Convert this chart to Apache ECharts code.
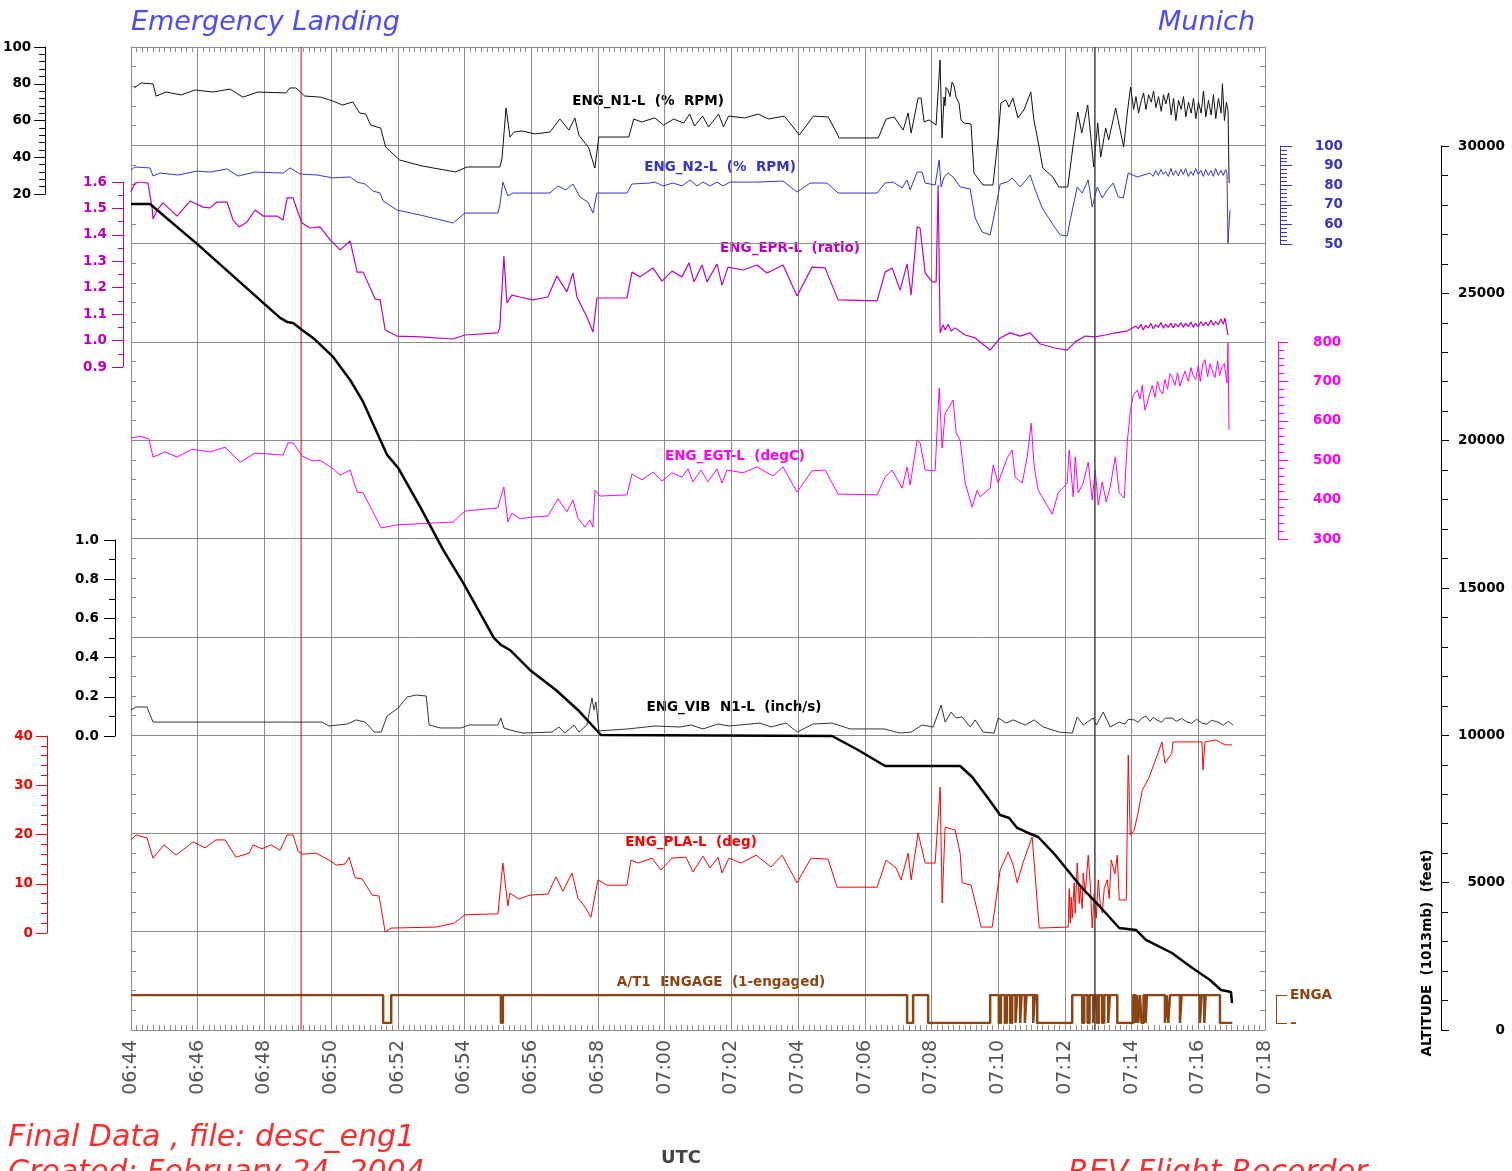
<!DOCTYPE html>
<html>
<head>
<meta charset="utf-8">
<title>Emergency Landing - Munich</title>
<script src="https://cdn.jsdelivr.net/npm/echarts@6/dist/echarts.min.js"></script>
<style>
  html, body { margin: 0; padding: 0; background: #fff; }
  #chart { width: 1512px; height: 1171px; }
</style>
</head>
<body>
<div id="chart"></div>
<script>
// time is minutes after 06:44 UTC
const startMin = 6 * 60 + 44;
const spanMin = 34;

const n1L = [[0,77.7],[0.21,80.4],[0.57,79.9],[0.66,73.3],[0.96,75.5],[1.41,73.9],[1.83,76.6],[2.37,75.5],[2.88,77.1],[3.27,72.7],[3.72,75.5],[4.56,75.0],[4.68,77.7],[4.86,77.7],[5.13,73.3],[5.61,72.7],[5.97,70.6],[6.27,68.4],[6.57,70.1],[6.78,64.1],[6.96,63.5],[7.11,57.5],[7.41,55.9],[7.56,45.6],[7.98,38.5],[8.67,35.2],[9.66,32.0],[10.01,34.7],[11.0,34.7],[11.06,39.6],[11.18,66.8],[11.30,51.0],[11.42,53.7],[11.66,54.3],[12.05,52.7],[12.50,53.7],[12.80,60.8],[13.07,54.8],[13.25,61.4],[13.37,52.1],[13.67,45.0],[13.85,34.1],[13.97,51.0],[14.87,51.0],[15.02,60.8],[15.26,59.2],[15.65,61.4],[15.92,57.5],[16.22,60.8],[16.52,58.6],[16.70,63.5],[16.85,57.0],[17.09,62.4],[17.27,56.5],[17.57,63.5],[17.72,56.5],[17.87,62.4],[18.35,61.4],[18.77,63.5],[19.07,60.8],[19.55,62.4],[20.0,52.1],[20.42,62.4],[20.87,61.9],[21.20,50.5],[22.37,50.5],[22.61,60.8],[22.85,61.9],[23.12,54.8],[23.27,64.1],[23.36,53.2],[23.57,72.2],[23.66,72.2],[23.75,59.2],[23.90,60.3],[24.11,57.5],[24.23,92.9],[24.29,50.5],[24.35,72.8],[24.38,68.0],[24.41,78.0],[24.47,76.6],[24.53,73.0],[24.59,80.9],[24.65,79.0],[24.71,72.8],[24.80,69.5],[24.86,60.3],[24.95,58.6],[25.16,58.1],[25.25,31.4],[25.52,24.9],[25.82,24.9],[25.97,49.4],[26.06,69.5],[26.21,71.2],[26.30,67.3],[26.42,72.2],[26.57,61.4],[26.75,65.7],[26.96,75.5],[27.05,60.3],[27.17,49.4],[27.32,34.1],[27.62,29.3],[27.80,23.8],[28.07,23.8],[28.22,45.0],[28.37,64.6],[28.49,53.2],[28.67,68.4],[28.85,34.7],[28.97,58.6],[29.06,40.1],[29.21,55.9],[29.30,49.4],[29.51,66.8],[29.75,45.6],[29.87,65.7],[29.96,78.2],[30.05,66],[30.12,73],[30.2,64],[30.28,71],[30.35,75],[30.42,66],[30.5,74],[30.58,70],[30.65,76],[30.72,67],[30.8,73],[30.88,65],[30.95,74],[31.02,69],[31.1,75],[31.18,63],[31.25,72],[31.32,60],[31.4,71],[31.48,66],[31.55,73],[31.62,62],[31.7,70],[31.78,64],[31.85,72],[31.92,61],[32.0,70],[32.08,64],[32.15,76],[32.22,62],[32.3,71],[32.38,63],[32.45,74],[32.52,61],[32.6,72],[32.68,64],[32.72,80],[32.78,60],[32.84,70],[32.89,65],[32.92,26]];

const n2L = [[0,87.8],[0.12,89.3],[0.57,88.8],[0.66,84.7],[0.87,86.2],[1.41,85.2],[1.98,87.2],[2.37,86.7],[2.88,88.3],[3.21,84.7],[3.72,86.7],[4.56,86.2],[4.77,88.8],[5.07,85.7],[5.58,85.2],[6.06,83.7],[6.57,84.2],[6.78,81.6],[7.02,80.6],[7.26,77.0],[7.47,76.0],[7.56,71.9],[7.98,67.3],[8.67,64.8],[9.66,60.7],[10.01,65.8],[11.0,65.8],[11.06,69.9],[11.15,81.6],[11.30,74.5],[11.45,76.0],[12.56,76.0],[12.80,79.6],[13.04,77.6],[13.25,80.6],[13.46,74.0],[13.70,71.4],[13.85,65.8],[13.97,76.0],[14.87,76.0],[15.02,80.6],[15.56,81.1],[15.71,81.6],[15.95,79.6],[16.25,81.1],[16.52,79.6],[16.76,82.7],[16.97,79.6],[17.15,81.6],[17.36,79.6],[17.57,81.6],[17.75,79.6],[17.96,81.6],[18.77,81.6],[19.55,82.1],[19.97,76.5],[20.36,81.1],[20.87,81.1],[21.20,76.0],[22.37,76.0],[22.61,81.1],[22.85,81.6],[23.12,78.6],[23.27,82.7],[23.36,77.6],[23.57,86.7],[23.72,86.7],[23.81,81.1],[24.11,80.1],[24.23,92.9],[24.29,79.1],[24.38,84.2],[24.50,86.2],[24.65,84.2],[24.86,79.1],[25.16,78.1],[25.31,63.3],[25.52,56.1],[25.76,54.6],[25.91,67.3],[26.06,80.6],[26.27,81.6],[26.42,83.7],[26.66,79.1],[26.96,85.2],[27.11,77.6],[27.32,68.4],[27.65,59.7],[27.86,54.6],[28.07,54.1],[28.16,62.2],[28.37,79.1],[28.52,76.0],[28.70,82.7],[28.82,68.9],[28.97,79.1],[29.12,73.5],[29.27,77.6],[29.45,81.1],[29.60,74.0],[29.75,73.5],[29.90,86.2],[30.17,84.2],[30.55,86.2],[30.65,84.5],[30.72,87.5],[30.8,85],[30.88,88],[30.95,85.5],[31.02,87],[31.1,84.5],[31.18,88.5],[31.25,85],[31.32,87.5],[31.4,84.8],[31.48,88],[31.55,85.5],[31.62,88.5],[31.7,84.5],[31.78,87],[31.85,85],[31.92,88.5],[32.0,85.5],[32.08,87.5],[32.15,84.5],[32.22,88],[32.3,85],[32.38,87.5],[32.45,84.5],[32.52,88.5],[32.6,85],[32.68,87.5],[32.75,85],[32.82,88],[32.86,86.2],[32.89,50.5],[32.95,67.3]];

const eprL = [[0,1.562],[0.12,1.596],[0.27,1.600],[0.51,1.596],[0.63,1.505],[0.66,1.460],[0.78,1.494],[0.96,1.521],[1.38,1.471],[1.77,1.528],[2.16,1.505],[2.37,1.502],[2.58,1.524],[2.88,1.524],[3.06,1.456],[3.24,1.430],[3.48,1.449],[3.72,1.494],[3.96,1.471],[4.38,1.471],[4.56,1.456],[4.68,1.540],[4.86,1.540],[4.98,1.494],[5.13,1.445],[5.37,1.426],[5.67,1.430],[5.97,1.381],[6.27,1.343],[6.57,1.377],[6.78,1.259],[6.96,1.259],[7.32,1.157],[7.47,1.154],[7.62,1.040],[7.98,1.017],[8.67,1.014],[9.66,1.006],[10.01,1.021],[11.0,1.029],[11.06,1.051],[11.18,1.320],[11.27,1.142],[11.42,1.172],[11.66,1.165],[12.05,1.154],[12.50,1.165],[12.77,1.244],[13.07,1.184],[13.25,1.256],[13.37,1.165],[13.67,1.089],[13.85,1.032],[13.97,1.161],[14.87,1.161],[15.02,1.259],[15.26,1.241],[15.65,1.275],[15.92,1.225],[16.22,1.263],[16.52,1.241],[16.73,1.294],[16.88,1.222],[17.12,1.286],[17.27,1.222],[17.57,1.290],[17.72,1.210],[17.90,1.278],[18.35,1.267],[18.77,1.286],[19.07,1.256],[19.55,1.286],[19.97,1.169],[20.42,1.278],[20.81,1.275],[21.20,1.154],[22.37,1.150],[22.61,1.259],[22.82,1.275],[23.06,1.191],[23.27,1.290],[23.39,1.172],[23.57,1.430],[23.66,1.426],[23.81,1.256],[24.02,1.222],[24.14,1.222],[24.20,1.589],[24.26,1.029],[24.35,1.060],[24.41,1.040],[24.50,1.062],[24.59,1.036],[24.71,1.048],[25.01,1.021],[25.31,1.010],[25.76,0.964],[26.06,1.010],[26.36,1.029],[26.66,1.017],[26.96,1.029],[27.26,0.987],[27.71,0.972],[28.07,0.964],[28.31,0.995],[28.61,1.017],[28.91,1.014],[29.21,1.021],[29.51,1.029],[29.87,1.036],[30.13,1.055],[30.2,1.045],[30.28,1.062],[30.35,1.04],[30.42,1.058],[30.5,1.048],[30.58,1.065],[30.65,1.045],[30.72,1.06],[30.8,1.05],[30.88,1.068],[30.95,1.047],[31.02,1.062],[31.1,1.05],[31.18,1.066],[31.25,1.048],[31.32,1.064],[31.4,1.052],[31.48,1.068],[31.55,1.05],[31.62,1.066],[31.7,1.053],[31.78,1.07],[31.85,1.05],[31.92,1.065],[32.0,1.052],[32.08,1.072],[32.15,1.055],[32.22,1.07],[32.3,1.056],[32.38,1.078],[32.45,1.058],[32.52,1.072],[32.6,1.06],[32.68,1.082],[32.75,1.062],[32.80,1.085],[32.89,1.021]];

const egtL = [[0,556],[0.27,561],[0.54,554],[0.66,508],[1.02,521],[1.38,508],[1.83,528],[2.37,521],[2.82,533],[3.27,495],[3.72,518],[4.08,516],[4.56,513],[4.71,544],[4.86,544],[5.13,511],[5.43,498],[5.67,500],[6.06,478],[6.27,462],[6.57,475],[6.78,419],[6.96,417],[7.38,348],[7.50,328],[7.98,336],[9.66,343],[10.01,371],[11.0,379],[11.06,399],[11.18,432],[11.30,343],[11.42,366],[11.66,351],[12.05,356],[12.50,358],[12.80,402],[13.07,369],[13.25,399],[13.40,353],[13.61,330],[13.76,348],[13.85,330],[13.91,424],[14.06,409],[14.87,412],[15.02,465],[15.32,450],[15.65,470],[15.92,447],[16.22,468],[16.52,457],[16.70,478],[16.85,445],[17.09,475],[17.30,445],[17.57,478],[17.72,442],[17.87,475],[18.35,468],[18.77,483],[19.25,460],[19.55,483],[19.97,419],[20.42,473],[20.81,475],[21.20,414],[22.37,412],[22.61,457],[22.82,475],[23.12,429],[23.27,483],[23.36,437],[23.57,551],[23.66,544],[23.81,475],[24.11,473],[24.23,683],[24.32,531],[24.41,620],[24.53,635],[24.65,653],[24.74,569],[24.86,551],[25.01,442],[25.22,381],[25.37,424],[25.46,407],[25.76,429],[25.85,488],[26.00,442],[26.27,506],[26.42,526],[26.51,457],[26.72,442],[26.87,508],[26.99,594],[27.08,483],[27.20,424],[27.62,363],[27.80,417],[28.07,442],[28.13,526],[28.25,407],[28.31,508],[28.40,417],[28.55,442],[28.70,495],[28.82,399],[28.91,475],[29.00,386],[29.12,445],[29.24,394],[29.36,432],[29.51,508],[29.63,417],[29.78,404],[29.87,546],[29.96,622],[30.05,665],[30.17,678],[30.25,655],[30.32,690],[30.40,627],[30.47,645],[30.55,671],[30.62,690],[30.70,660],[30.78,700],[30.85,678],[30.93,668],[31.00,705],[31.08,680],[31.15,720],[31.21,711],[31.30,690],[31.38,722],[31.45,688],[31.51,704],[31.60,726],[31.70,700],[31.78,735],[31.84,716],[31.92,705],[32.00,740],[32.06,700],[32.14,747],[32.20,755],[32.28,712],[32.35,745],[32.44,721],[32.50,710],[32.58,752],[32.64,715],[32.71,737],[32.78,745],[32.86,696],[32.89,797],[32.92,577]];

const vibL = [[0,0.133],[0.15,0.148],[0.48,0.148],[0.66,0.071],[4.56,0.071],[5.73,0.071],[5.94,0.051],[6.48,0.061],[6.75,0.082],[7.02,0.071],[7.29,0.020],[7.50,0.020],[7.68,0.102],[8.01,0.143],[8.28,0.199],[8.55,0.209],[8.85,0.204],[8.94,0.056],[9.27,0.041],[9.90,0.041],[10.13,0.056],[11.00,0.056],[11.09,0.092],[11.18,0.041],[11.36,0.031],[11.75,0.015],[12.62,0.020],[12.83,0.046],[13.01,0.015],[13.28,0.056],[13.43,0.020],[13.67,0.056],[13.82,0.194],[13.88,0.133],[13.94,0.173],[14.03,0.026],[14.90,0.036],[15.71,0.051],[16.46,0.046],[16.79,0.056],[17.15,0.036],[17.60,0.061],[17.93,0.051],[18.86,0.066],[19.19,0.046],[19.64,0.066],[19.97,0.020],[20.45,0.061],[21.02,0.066],[21.56,0.036],[22.58,0.036],[23.06,0.015],[23.39,0.020],[23.72,0.056],[24.05,0.046],[24.29,0.158],[24.41,0.071],[24.59,0.122],[24.74,0.092],[24.92,0.097],[25.16,0.046],[25.31,0.082],[25.55,0.020],[25.88,0.015],[26.00,0.092],[26.24,0.066],[26.45,0.082],[26.81,0.056],[27.08,0.082],[27.35,0.046],[27.83,0.020],[28.22,0.015],[28.37,0.097],[28.55,0.056],[28.85,0.092],[28.94,0.056],[29.15,0.122],[29.36,0.046],[29.63,0.071],[29.8,0.06],[29.9,0.085],[30.08,0.082],[30.2,0.07],[30.3,0.09],[30.43,0.102],[30.55,0.075],[30.65,0.095],[30.76,0.082],[30.9,0.07],[31.0,0.09],[31.21,0.092],[31.35,0.075],[31.5,0.09],[31.66,0.071],[31.8,0.065],[31.95,0.085],[32.11,0.066],[32.25,0.06],[32.4,0.08],[32.59,0.071],[32.75,0.055],[32.9,0.075],[33.04,0.056]];

const plaL = [[0,18.9],[0.15,19.9],[0.48,19.3],[0.66,15.2],[0.99,17.9],[1.35,15.8],[1.86,18.5],[2.22,17.3],[2.55,18.9],[2.82,18.9],[3.15,15.4],[3.54,16.2],[3.66,17.9],[3.93,17.1],[4.20,17.9],[4.47,16.8],[4.68,19.9],[4.86,19.9],[5.01,16.6],[5.13,16.0],[5.55,16.2],[5.94,14.8],[6.15,13.8],[6.42,14.0],[6.54,15.4],[6.72,11.2],[6.93,11.0],[7.23,7.7],[7.44,7.5],[7.62,0.2],[7.80,1.0],[9.15,1.2],[9.69,2.0],[10.01,3.7],[11.00,3.9],[11.15,14.2],[11.30,5.5],[11.36,8.1],[11.63,6.9],[11.96,7.7],[12.50,7.9],[12.74,11.4],[12.95,8.5],[13.22,12.2],[13.40,7.1],[13.61,5.3],[13.79,3.2],[14.00,10.8],[14.27,9.7],[14.87,9.7],[14.99,14.8],[15.20,14.2],[15.62,15.2],[15.89,12.8],[16.22,15.2],[16.64,15.4],[16.85,12.4],[17.15,15.6],[17.36,13.2],[17.60,15.4],[17.72,12.2],[17.93,15.2],[18.29,14.2],[18.74,15.8],[19.19,13.4],[19.52,15.8],[19.97,10.2],[20.39,15.2],[20.90,15.0],[21.17,9.3],[22.37,9.3],[22.64,14.8],[22.94,13.2],[23.09,10.8],[23.30,16.2],[23.39,10.8],[23.60,20.3],[23.81,14.2],[24.11,14.2],[24.26,29.6],[24.32,6.1],[24.41,21.5],[24.71,20.9],[24.86,16.2],[24.92,10.2],[25.19,9.7],[25.49,1.2],[25.82,1.2],[26.06,12.8],[26.30,16.4],[26.45,13.8],[26.57,10.2],[26.75,14.4],[27.02,19.5],[27.23,1.0],[28.10,1.2],[28.13,9],[28.16,2],[28.19,7.3],[28.22,3],[28.28,10.2],[28.31,4],[28.37,14.2],[28.43,6],[28.46,9.1],[28.52,5],[28.55,12.2],[28.61,8],[28.70,15.8],[28.76,10],[28.82,1.0],[28.88,8],[28.94,3],[29.00,10.8],[29.06,6],[29.12,4.1],[29.18,9],[29.27,10.8],[29.33,7],[29.39,14.8],[29.50,12],[29.57,15.8],[29.63,6.7],[29.84,6.7],[29.90,36.1],[29.96,19.9],[30.08,20.9],[30.20,24.6],[30.32,29.0],[30.52,31.5],[30.79,36.5],[30.91,38.8],[31.00,34.5],[31.21,36.5],[31.24,38.8],[32.11,38.8],[32.14,33.1],[32.20,38.8],[32.53,39.2],[32.80,38.2],[33.01,38.2]];

// autothrottle engaged flag, value holds until next change
const atEngage = [[0,1],[7.56,0],[7.80,1],[11.09,0],[11.15,1],[23.27,0],[23.45,1],[23.90,0],[25.76,1],[26.02,0],[26.08,1],[26.20,0],[26.26,1],[26.36,0],[26.42,1],[26.52,0],[26.57,1],[26.66,0],[26.70,1],[26.80,0],[26.85,1],[27.05,0],[27.10,1],[27.17,0],[28.22,1],[28.52,0],[28.58,1],[28.68,0],[28.74,1],[28.85,0],[28.90,1],[28.96,0],[29.02,1],[29.12,0],[29.18,1],[29.30,0],[29.35,1],[29.57,0],[30.05,1],[30.12,0],[30.16,1],[30.20,0],[30.25,1],[30.30,0],[30.36,1],[30.42,0],[30.46,1],[31.00,0],[31.05,1],[31.10,0],[31.15,1],[31.45,0],[31.50,1],[32.05,0],[32.10,1],[32.18,0],[32.22,1],[32.65,0],[33.02,0]];

const altitude = [[0,28034],[0.57,28034],[1.98,26677],[4.47,24165],[4.68,24030],[4.86,23996],[5.13,23758],[5.46,23486],[6.06,22842],[6.57,22061],[6.96,21314],[7.38,20262],[7.68,19516],[8.01,19074],[8.67,17751],[9.36,16291],[9.96,15171],[10.88,13304],[11.09,13067],[11.36,12897],[11.96,12218],[12.74,11540],[13.40,10861],[14.09,10012],[21.02,9978],[21.80,9503],[22.61,8960],[24.86,8960],[25.22,8587],[25.67,7908],[26.06,7297],[26.33,7195],[26.57,6856],[26.90,6686],[27.20,6550],[27.71,5940],[28.49,4853],[29.06,4175],[29.63,3462],[30.13,3394],[30.43,3055],[31.21,2613],[31.78,2138],[32.35,1697],[32.68,1358],[32.98,1290],[33.01,916]];

// event cursors (minutes after 06:44)
const markerTimes = [5.10, 28.90];

const FONT = 'DejaVu Sans, Liberation Sans, sans-serif';
const PLOT_L = 131, PLOT_R = 1512 - 1265, PLOT_T = 47, PLOT_H = 983;

function hhmm(v) {
  const m = startMin + Math.round(v);
  return String(Math.floor(m / 60)).padStart(2, '0') + ':' + String(m % 60).padStart(2, '0');
}

// each trace gets its own grid so its scale covers only its band
const panels = [
  { top: 47,  height: 147, side: 'left',  offset: 89,  min: 20,  max: 100,   interval: 20,   minor: 5, color: '#000000', margin: 14, tick: 11, minorLen: 6 },
  { top: 146, height: 98,  side: 'right', offset: 15,  min: 50,  max: 100,   interval: 10,   minor: 5, color: '#3535c8', margin: 63, tick: 12, minorLen: 7, align: 'right' },
  { top: 182, height: 185, side: 'left',  offset: 8,   min: 0.9, max: 1.6,   interval: 0.1,  minor: 2, color: '#bb00bb', margin: 16, tick: 11, minorLen: 5, fmt: v => v.toFixed(1) },
  { top: 342, height: 197, side: 'right', offset: 13,  min: 300, max: 800,   interval: 100,  minor: 5, color: '#ff00ff', margin: 35, tick: 10, minorLen: 6 },
  { top: 540, height: 196, side: 'left',  offset: 16,  min: 0,   max: 1,     interval: 0.2,  minor: 2, color: '#000000', margin: 16, tick: 11, minorLen: 6, fmt: v => v.toFixed(1) },
  { top: 736, height: 197, side: 'left',  offset: 84,  min: 0,   max: 40,    interval: 10,   minor: 5, color: '#ff0000', margin: 14, tick: 11, minorLen: 6 },
  { top: 995, height: 28,  side: 'right', offset: 11,  min: 0,   max: 1,     interval: 1,    minor: 0, color: '#8b4513', margin: 14, tick: 11, minorLen: 0, fmt: v => (v === 1 ? 'ENGA' : '–') },
  { top: 146, height: 884, side: 'right', offset: 176, min: 0,   max: 30000, interval: 5000, minor: 5, color: '#000000', margin: 64, tick: 8,  minorLen: 7, align: 'right' }
];

const gridColor = '#8c8c8c';

const grids = [{ left: PLOT_L, right: PLOT_R, top: PLOT_T, height: PLOT_H, show: false }];
const xAxes = [
  {
    gridIndex: 0, type: 'value', min: 0, max: spanMin, interval: 2, position: 'bottom',
    axisLine: { show: true, onZero: false, lineStyle: { color: gridColor } },
    axisTick: { show: true, inside: true, length: 5, lineStyle: { color: gridColor } },
    minorTick: { show: true, splitNumber: 12, length: 5, lineStyle: { color: gridColor } },
    axisLabel: { show: true, rotate: 90, margin: 10, formatter: hhmm, color: '#555', fontSize: 19,
                 fontFamily: FONT, showMinLabel: true, showMaxLabel: true },
    splitLine: { show: true, lineStyle: { color: gridColor, width: 1 } }
  },
  {
    gridIndex: 0, type: 'value', min: 0, max: spanMin, interval: 2, position: 'top',
    axisLine: { show: true, onZero: false, lineStyle: { color: gridColor } },
    axisTick: { show: true, inside: true, length: 5, lineStyle: { color: gridColor } },
    minorTick: { show: true, splitNumber: 12, length: 5, lineStyle: { color: gridColor } },
    axisLabel: { show: false }, splitLine: { show: false }
  }
];
const yAxes = [
  {
    gridIndex: 0, type: 'value', min: 0, max: 10, interval: 1, position: 'left',
    axisLine: { show: true, onZero: false, lineStyle: { color: gridColor } },
    axisTick: { show: true, inside: true, length: 6, lineStyle: { color: gridColor } },
    minorTick: { show: true, splitNumber: 5, length: 5, lineStyle: { color: gridColor } },
    axisLabel: { show: false },
    splitLine: { show: true, lineStyle: { color: gridColor, width: 1 } }
  },
  {
    gridIndex: 0, type: 'value', min: 0, max: 10, interval: 1, position: 'right',
    axisLine: { show: true, onZero: false, lineStyle: { color: gridColor } },
    axisTick: { show: true, inside: true, length: 6, lineStyle: { color: gridColor } },
    minorTick: { show: true, splitNumber: 5, length: 5, lineStyle: { color: gridColor } },
    axisLabel: { show: false }, splitLine: { show: false }
  }
];

panels.forEach((p, i) => {
  grids.push({ left: PLOT_L, right: PLOT_R, top: p.top, height: p.height, show: false });
  xAxes.push({ gridIndex: i + 1, type: 'value', min: 0, max: spanMin, show: false });
  yAxes.push({
    gridIndex: i + 1, type: 'value', min: p.min, max: p.max, interval: p.interval,
    position: p.side, offset: p.offset,
    axisLine: { show: true, onZero: false, lineStyle: { color: p.color, width: 1 } },
    axisTick: { show: true, length: p.tick, lineStyle: { color: p.color } },
    minorTick: { show: p.minor > 0, splitNumber: p.minor || 1, length: p.minorLen, lineStyle: { color: p.color } },
    axisLabel: {
      show: true, color: p.color, fontSize: 13.5, fontWeight: 'bold', fontFamily: FONT,
      margin: p.margin, align: p.align, formatter: p.fmt || (v => String(v)),
      showMinLabel: true, showMaxLabel: true
    },
    splitLine: { show: false }
  });
});

function trace(data, panel, color, width, extra) {
  return Object.assign({
    type: 'line', data: data, xAxisIndex: panel + 2, yAxisIndex: panel + 2,
    showSymbol: false, symbol: 'none', animation: false, silent: true,
    lineStyle: { color: color, width: width }, itemStyle: { color: color }
  }, extra || {});
}

const series = [
  trace(n1L, 0, '#111111', 1),
  trace(n2L, 1, '#3535d0', 1),
  trace(eprL, 2, '#c000c0', 1.2),
  trace(egtL, 3, '#ff00ff', 1),
  trace(vibL, 4, '#333333', 1),
  trace(plaL, 5, '#ff0000', 1),
  trace(atEngage, 6, '#8b4513', 2.5, { step: 'end' }),
  trace(altitude, 7, '#000000', 2.5, { z: 5 })
];

const markerColors = ['#dd0000', '#444444'];
markerTimes.forEach((t, i) => {
  series.push({
    type: 'line', xAxisIndex: 0, yAxisIndex: 0, data: [[t, 0], [t, 10]],
    showSymbol: false, symbol: 'none', animation: false, silent: true,
    lineStyle: { color: markerColors[i], width: i === 0 ? 1 : 1.5 }
  });
});

function label(text, x, y, color, extra) {
  return Object.assign({
    type: 'text', x: x, y: y, silent: true,
    style: { text: text, fill: color, font: 'bold 13.5px ' + FONT, align: 'center', verticalAlign: 'middle' }
  }, extra || {});
}

const graphics = [
  { type: 'text', x: 131, y: 23, style: { text: 'Emergency Landing', fill: '#4a4aff', font: 'italic 200 27px ' + FONT, align: 'left', verticalAlign: 'middle' } },
  { type: 'text', x: 1255, y: 23, style: { text: 'Munich', fill: '#4a4aff', font: 'italic 200 27px ' + FONT, align: 'right', verticalAlign: 'middle' } },
  label('ENG_N1-L  (%  RPM)', 648, 101, '#000000'),
  label('ENG_N2-L  (%  RPM)', 720, 167, '#3535c8'),
  label('ENG_EPR-L  (ratio)', 790, 248, '#bb00bb'),
  label('ENG_EGT-L  (degC)', 735, 456, '#ff00ff'),
  label('ENG_VIB  N1-L  (inch/s)', 734, 707, '#000000'),
  label('ENG_PLA-L  (deg)', 691, 842, '#ff0000'),
  label('A/T1  ENGAGE  (1-engaged)', 721, 982, '#8b4513'),
  label('ALTITUDE  (1013mb)  (feet)', 1427, 953, '#000000', { rotation: Math.PI / 2 }),
  label('UTC', 681, 1158, '#444444', { style: { text: 'UTC', fill: '#444', font: 'bold 18px ' + FONT, align: 'center', verticalAlign: 'middle' } }),
  { type: 'text', x: 8, y: 1138, style: { text: 'Final Data , file: desc_eng1', fill: '#ff2a2a', font: 'italic 200 30px ' + FONT, align: 'left', verticalAlign: 'middle' } },
  { type: 'text', x: 8, y: 1173, style: { text: 'Created: February 24, 2004', fill: '#ff2a2a', font: 'italic 200 30px ' + FONT, align: 'left', verticalAlign: 'middle' } },
  { type: 'text', x: 1068, y: 1173, style: { text: 'REV Flight Recorder', fill: '#ff2a2a', font: 'italic 200 30px ' + FONT, align: 'left', verticalAlign: 'middle' } }
];

const chart = echarts.init(document.getElementById('chart'));
chart.setOption({
  backgroundColor: '#ffffff',
  animation: false,
  grid: grids,
  xAxis: xAxes,
  yAxis: yAxes,
  series: series,
  graphic: graphics
});
</script>
</body>
</html>
